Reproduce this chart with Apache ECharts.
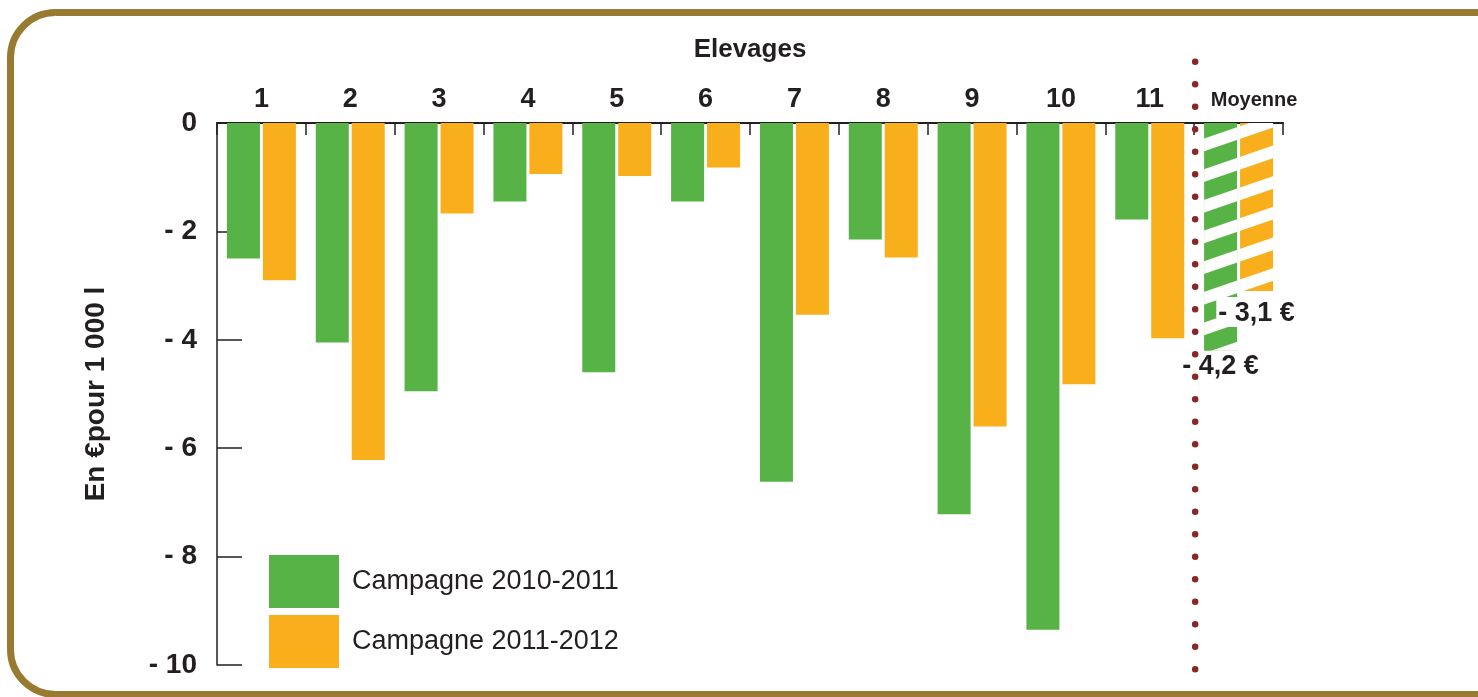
<!DOCTYPE html>
<html>
<head>
<meta charset="utf-8">
<script src="https://cdn.jsdelivr.net/npm/echarts@6/dist/echarts.min.js"></script>
<style>
html,body{margin:0;padding:0;background:#fff;}
#chart{width:1478px;height:697px;}
</style>
</head>
<body>
<div id="chart"></div>
<script>
const categories = ['1','2','3','4','5','6','7','8','9','10','11','Moyenne'];
const campagne2010_2011 = [-2.5, -4.05, -4.95, -1.45, -4.6, -1.45, -6.62, -2.15, -7.22, -9.35, -1.78, -4.2];
const campagne2011_2012 = [-2.9, -6.22, -1.67, -0.94, -0.98, -0.82, -3.54, -2.48, -5.6, -4.82, -3.97, -3.1];
const yTicks = [0, -2, -4, -6, -8, -10];
const seriesNames = ['Campagne 2010-2011', 'Campagne 2011-2012'];

const GREEN = '#58b347';
const ORANGE = '#f9ae1b';
const TEXT = '#231f20';
const FONT = 'Liberation Sans, Arial, sans-serif';

function fmtEuro(v){ return '- ' + Math.abs(v).toFixed(1).replace('.', ',') + ' €'; }

const stripeDecal = {
  color: '#ffffff',
  symbol: 'rect',
  symbolSize: 1,
  dashArrayX: [1, 0],
  dashArrayY: [12, 17],
  rotation: -Math.PI / 9.5
};

function buildData(values, labelDistance, withBg){
  return values.map((v, i) => {
    if (categories[i] !== 'Moyenne') return v;
    return {
      value: v,
      itemStyle: { decal: stripeDecal },
      label: {
        show: true,
        position: 'bottom',
        distance: labelDistance,
        formatter: p => fmtEuro(p.value),
        fontFamily: FONT,
        fontSize: 27,
        fontWeight: 'bold',
        color: TEXT,
        backgroundColor: withBg ? '#ffffff' : 'transparent',
        padding: withBg ? [3, 2, 0, 2] : 0
      }
    };
  });
}

const chart = echarts.init(document.getElementById('chart'));
const border = {
  id: 'border',
  type: 'rect',
  z: 100,
  silent: true,
  shape: { x: 10.5, y: 12.5, width: 1540, height: 682, r: 45 },
  style: { fill: 'none', stroke: '#987a30', lineWidth: 7 }
};

chart.setOption({
  animation: false,
  backgroundColor: '#ffffff',
  textStyle: { fontFamily: FONT },
  grid: { left: 217, top: 123, right: 195, bottom: 32, containLabel: false },
  legend: {
    orient: 'vertical',
    left: 264,
    top: 550,
    itemWidth: 70,
    itemHeight: 53,
    itemGap: 7,
    icon: 'rect',
    data: seriesNames,
    formatter: n => '{t|' + n + '}',
    textStyle: {
      fontFamily: FONT, fontSize: 27, color: TEXT,
      rich: { t: { fontFamily: FONT, fontSize: 27, color: TEXT, padding: [0, 0, 0, 8] } }
    }
  },
  xAxis: {
    type: 'category',
    position: 'top',
    data: categories,
    name: 'Elevages',
    nameLocation: 'middle',
    nameGap: 60,
    nameTextStyle: { fontFamily: FONT, fontSize: 26, fontWeight: 'bold', color: TEXT },
    axisLine: { show: true, lineStyle: { color: '#231f20', width: 2 } },
    axisTick: { show: true, inside: true, length: 12, lineStyle: { color: '#231f20', width: 1.5 } },
    axisLabel: {
      margin: 10,
      interval: 0,
      fontFamily: FONT,
      fontSize: 27,
      fontWeight: 'bold',
      color: TEXT,
      formatter: v => v === 'Moyenne' ? '{m|Moyenne}' : v,
      rich: { m: { fontFamily: FONT, fontSize: 20, fontWeight: 'bold', color: TEXT, padding: [0, 0, 3, 31] } }
    },
    splitLine: { show: false }
  },
  yAxis: {
    type: 'value',
    min: -10,
    max: 0,
    interval: 2,
    name: 'En €pour 1 000 l',
    nameLocation: 'middle',
    nameGap: 107,
    nameRotate: 90,
    nameTextStyle: { fontFamily: FONT, fontSize: 28, fontWeight: 'bold', color: TEXT },
    axisLine: { show: true, lineStyle: { color: '#231f20', width: 1.5 } },
    axisTick: { show: true, inside: true, length: 25, lineStyle: { color: '#231f20', width: 1.5 } },
    axisLabel: {
      margin: 20,
      fontFamily: FONT,
      fontSize: 28,
      fontWeight: 'bold',
      color: TEXT,
      formatter: v => yTicks.indexOf(v) < 0 ? '' : (v === 0 ? '0' : '- ' + Math.abs(v))
    },
    splitLine: { show: false }
  },
  series: [
    {
      name: seriesNames[0],
      type: 'bar',
      barWidth: 33,
      barGap: '9%',
      itemStyle: { color: GREEN },
      data: buildData(campagne2010_2011, 2, false)
    },
    {
      name: seriesNames[1],
      type: 'bar',
      barWidth: 33,
      barGap: '9%',
      itemStyle: { color: ORANGE },
      data: buildData(campagne2011_2012, 6, true),
      z: 3
    }
  ],
  graphic: [border]
});

// dotted separator between the last farm and the average, placed with the axis scales
const xa = chart.convertToPixel({ xAxisIndex: 0 }, categories[categories.length - 2]);
const xb = chart.convertToPixel({ xAxisIndex: 0 }, categories[categories.length - 1]);
const xSep = (xa + xb) / 2;
const yZero = chart.convertToPixel({ yAxisIndex: 0 }, 0);
const yMin = chart.convertToPixel({ yAxisIndex: 0 }, -10);
chart.setOption({
  graphic: [
    border,
    {
      id: 'sep',
      type: 'line',
      z: 50,
      silent: true,
      shape: { x1: xSep + 1, y1: yZero - 61.3, x2: xSep + 1, y2: yMin + 5 },
      style: { stroke: '#8b2626', lineWidth: 6.5, lineCap: 'round', lineDash: [0, 22.5] }
    }
  ]
});
</script>
</body>
</html>
